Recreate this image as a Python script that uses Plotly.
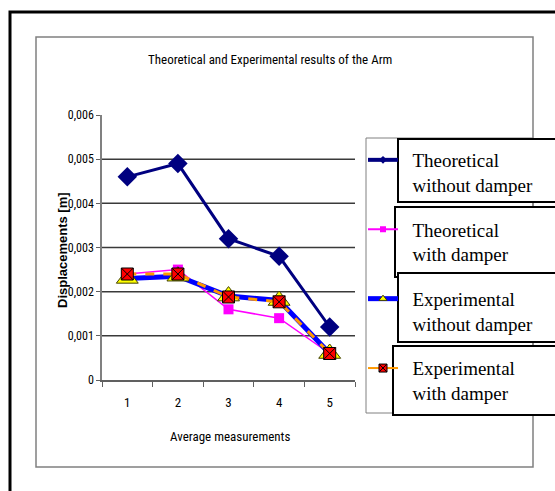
import plotly.graph_objects as go

W, H = 555, 491

# Data
measurements = ["1", "2", "3", "4", "5"]
theo_no_damper = [0.0046, 0.0049, 0.0032, 0.0028, 0.0012]
theo_damper = [0.0024, 0.0025, 0.0016, 0.0014, 0.0006]
exp_no_damper = [0.0023, 0.00235, 0.0019, 0.0018, 0.0006]
exp_damper = [0.0024, 0.0024, 0.00188, 0.00177, 0.0006]

series_names = [
    "Theoretical<br>without damper",
    "Theoretical<br>with damper",
    "Experimental<br>without damper",
    "Experimental<br>with damper",
]

y_ticks = [0, 0.001, 0.002, 0.003, 0.004, 0.005, 0.006]
y_ticktext = ["0", "0,001", "0,002", "0,003", "0,004", "0,005", "0,006"]

NARROW = "Liberation Sans Narrow, Arial Narrow, Roboto Condensed, Liberation Sans, sans-serif"
SERIF = "Liberation Serif, Times New Roman, serif"
INDENT = "\u00a0\u00a0"


def px(x):
    return x / W


def py(y):
    return 1 - y / H


def indented(label):
    # push legend text away from the sample line
    return "<br>".join(INDENT + part for part in label.split("<br>"))


styles = [
    dict(line=dict(color="#000080", width=3),
         marker=dict(symbol="diamond", size=15, color="#000080")),
    dict(line=dict(color="#FF00FF", width=1.5),
         marker=dict(symbol="square", size=10, color="#FF00FF")),
    dict(line=dict(color="#0000FF", width=5),
         marker=dict(symbol="triangle-up", size=19, color="#FFFF00",
                     line=dict(color="#404000", width=1))),
    dict(line=dict(color="#FF9900", width=3, dash="dash"),
         marker=dict(symbol="square-x", size=12, color="#FF0000",
                     line=dict(color="#000000", width=1))),
]
legend_styles = [
    dict(line=dict(color="#000080", width=4),
         marker=dict(symbol="diamond", size=6, color="#000080")),
    dict(line=dict(color="#FF00FF", width=2),
         marker=dict(symbol="square", size=6, color="#FF00FF")),
    dict(line=dict(color="#0000FF", width=5),
         marker=dict(symbol="triangle-up", size=7, color="#FFFF00",
                     line=dict(color="#404000", width=1))),
    dict(line=dict(color="#FF9900", width=2),
         marker=dict(symbol="square-x", size=8, color="#FF0000",
                     line=dict(color="#000000", width=1))),
]

series_values = [theo_no_damper, theo_damper, exp_no_damper, exp_damper]

fig = go.Figure()
for name, vals, st in zip(series_names, series_values, styles):
    fig.add_trace(go.Scatter(x=measurements, y=vals, name=name,
                             mode="lines+markers", showlegend=False, **st))
# compact legend entries
for i, (name, st) in enumerate(zip(series_names, legend_styles)):
    fig.add_trace(go.Scatter(x=[None], y=[None], name=indented(name),
                             legendgroup=str(i), mode="lines+markers",
                             showlegend=True, **st))

shapes = []
# outer page frame and chart frame
shapes.append(dict(type="rect", xref="paper", yref="paper",
                   x0=px(10), y0=py(12), x1=px(620), y1=py(560),
                   line=dict(color="black", width=3), layer="below"))
shapes.append(dict(type="rect", xref="paper", yref="paper",
                   x0=px(36), y0=py(37), x1=px(533), y1=py(467),
                   line=dict(color="#808080", width=1.5), layer="below"))
# horizontal grid lines
for v in y_ticks[1:-1]:
    shapes.append(dict(type="line", xref="x domain", yref="y",
                       x0=0, x1=1, y0=v, y1=v,
                       line=dict(color="#3a3a3a", width=1.5), layer="below"))
# legend frame
shapes.append(dict(type="rect", xref="paper", yref="paper",
                   x0=px(366), y0=py(138), x1=px(533), y1=py(413),
                   line=dict(color="#808080", width=1), layer="above"))
# label boxes over the legend
for (l, t, b) in [(398, 139, 202), (395, 207, 277), (398, 273, 342), (393, 346, 415)]:
    shapes.append(dict(type="rect", xref="paper", yref="paper",
                       x0=px(l), y0=py(t), x1=px(600), y1=py(b),
                       fillcolor="white", line=dict(color="black", width=2),
                       layer="above"))

annotations = [
    dict(text="Theoretical and Experimental results of the Arm",
         xref="paper", yref="paper", x=px(270), y=py(60),
         xanchor="center", yanchor="middle",
         showarrow=False, font=dict(family=NARROW, size=13, color="black")),
    dict(text="<b>Displacements [m]</b>", xref="paper", yref="paper",
         x=px(62), y=py(250), xanchor="center", yanchor="middle",
         textangle=-90, showarrow=False,
         font=dict(family="Liberation Sans, Arial, sans-serif", size=13, color="black")),
    dict(text="Average measurements", xref="paper", yref="paper",
         x=px(230), y=py(436), xanchor="center", yanchor="middle",
         showarrow=False, font=dict(family=NARROW, size=13, color="black")),
]

fig.update_layout(
    width=W, height=H,
    margin=dict(l=0, r=0, t=0, b=0, autoexpand=False),
    paper_bgcolor="white", plot_bgcolor="white",
    shapes=shapes, annotations=annotations,
    showlegend=True,
    legend=dict(
        x=px(363), y=py(141), xanchor="left", yanchor="top",
        font=dict(family=SERIF, size=19, color="black"),
        bgcolor="rgba(0,0,0,0)", borderwidth=0,
        tracegroupgap=17, valign="top", itemwidth=30, maxheight=420,
    ),
    xaxis=dict(
        domain=[px(102), px(355)], type="category",
        categoryorder="array", categoryarray=measurements,
        range=[-0.5, 4.5], showgrid=False, zeroline=False,
        showline=True, linecolor="#606060", linewidth=1.5,
        ticks="outside", tickson="boundaries", ticklen=5, tickcolor="#606060",
        ticklabelstandoff=10,
        tickfont=dict(family=NARROW, size=13, color="black"),
    ),
    yaxis=dict(
        domain=[py(380), py(115)], range=[0, 0.006],
        tickvals=y_ticks, ticktext=y_ticktext,
        showgrid=False, zeroline=False,
        showline=True, linecolor="#808080", linewidth=1.5,
        ticks="outside", ticklen=4, tickcolor="#606060",
        tickfont=dict(family=NARROW, size=12, color="black"),
    ),
)

fig.write_html("out.html")
